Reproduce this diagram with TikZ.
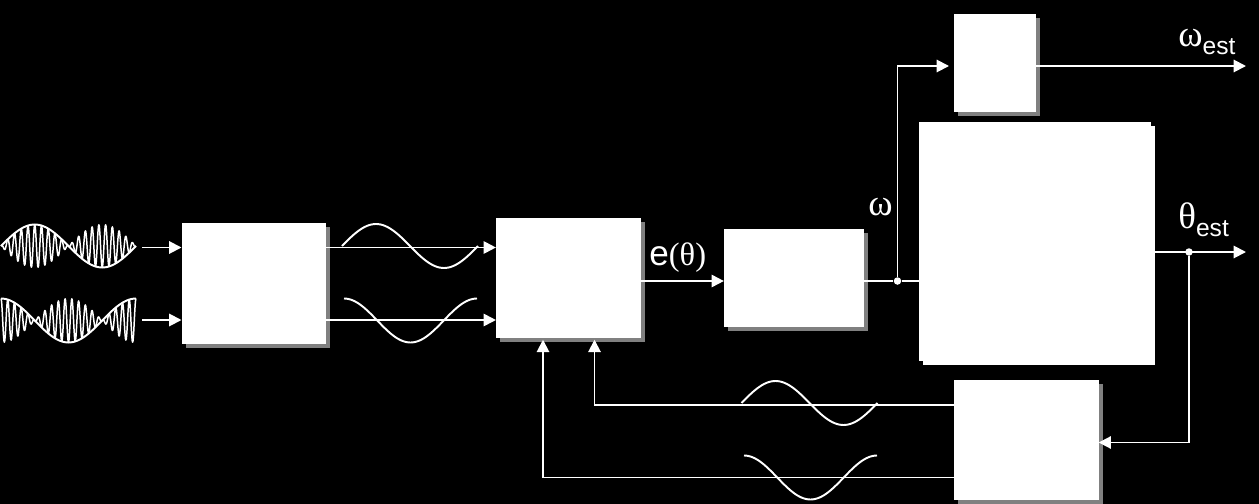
\documentclass[tikz,border=0pt]{standalone}
\usepackage{fontspec}
\setmainfont{Liberation Sans}
\newfontfamily\grkfont{Liberation Serif}
\usetikzlibrary{arrows.meta, positioning, shadows}
\definecolor{ShadowGray}{HTML}{808080}
\newcommand{\estsub}{\raisebox{-4.6pt}{\fontsize{14}{15}\selectfont est}}
\newcommand{\grkbig}{\grkfont\fontsize{21}{22}\selectfont}
\tikzset{
    block/.style={fill=white, inner sep=0pt, outer sep=0pt, drop shadow={shadow xshift=0.08cm, shadow yshift=-0.08cm, fill=ShadowGray, opacity=1}},
    wire/.style={draw=white, line width=1.1pt},
    feed/.style={wire, -{Triangle[length=7pt, width=7pt]}},
    wave/.style={draw=white, line width=1.1pt, line join=round},
    carrier/.style={draw=white, line width=0.85pt, line join=round},
    dot/.style={circle, fill=white, inner sep=0pt, minimum size=0.15cm},
    lbl/.style={text=white, inner sep=0pt, anchor=base west, font=\fontsize{20}{22}\selectfont}
}

\begin{document}
\begin{tikzpicture}[x=0.02cm, y=-0.02cm]
                \fill[black] (0,0) rectangle (1259,504);
                \useasboundingbox (0,0) rectangle (1259,504);

                \node[block, minimum width=2.9cm, minimum height=2.42cm] (mixer) at (254,283.5) {};
                \node[block, minimum width=2.9cm, minimum height=2.39cm, right=3.39cm of mixer, yshift=0.11cm] (detector) {};
                \node[block, minimum width=2.8cm, minimum height=1.95cm, right=1.66cm of detector] (loopfilt) {};
                \node[block, minimum width=1.64cm, minimum height=1.95cm] (scaler) at (994.7,63) {};
                \node[block, minimum width=4.63cm, minimum height=4.77cm, below=0.21cm of scaler, xshift=0.81cm, drop shadow={shadow xshift=0.08cm, shadow yshift=-0.08cm, fill=white, opacity=1}] (vco) {};
                \node[block, minimum width=2.9cm, minimum height=2.4cm, below=0.39cm of vco, xshift=-0.18cm] (quad) {};

                \coordinate (upline) at (142,247.5);
                \coordinate (loline) at (142,320);
                \coordinate (errline) at (680,281);
                \node[dot] (split) at (897.5,281) {};
                \node[dot] (tap) at (1189,252) {};
                \coordinate (wout) at (1246,66);
                \coordinate (tout) at (1246,252);
                \coordinate (fbin) at (1189,442.5);
                \coordinate (fbsin) at (594.5,405);
                \coordinate (fbcos) at (543,477.5);

                % Arrows
                \draw[feed] (upline) -- (upline -| mixer.west);
                \draw[feed] (loline) -- (loline -| mixer.west);
                \draw[feed] (upline -| mixer.east) -- (upline -| detector.west);
                \draw[feed] (loline -| mixer.east) -- (loline -| detector.west);
                \draw[feed] (errline -| detector.east) -- (errline -| loopfilt.west);
                \draw[wire] (errline -| loopfilt.east) -- (split) -- (errline -| vco.west);
                \draw[feed, shorten >=0.094cm] (split) |- (wout -| scaler.west);
                \draw[feed] (wout -| scaler.east) -- (wout);
                \draw[feed] (tout -| vco.east) -- (tout);
                \draw[feed] (tap) -- (fbin) -- (fbin -| quad.east);
                \draw[feed, shorten >=0.04cm] (fbsin -| quad.west) -- (fbsin) -- (fbsin |- detector.south);
                \draw[feed, shorten >=0.04cm] (fbcos -| quad.west) -- (fbcos) -- (fbcos |- detector.south);

                % Waves
                \foreach \xa/\ya in {342/246, 741.5/403}
                    \draw[wave] plot[domain=0:360, samples=61, smooth] ({\xa+\x/360*136}, {\ya-22*sin(\x)});
                \foreach \xa/\ya in {344/320.5, 744/477.5}
                    \draw[wave] plot[domain=0:360, samples=61, smooth] ({\xa+\x/360*133}, {\ya-22*cos(\x)});
                \draw[wave] plot[domain=0:360, samples=61, smooth] ({1+\x/360*135}, {246-21.5*sin(\x)});
                \draw[wave] plot[domain=0:360, samples=61, smooth] ({1+\x/360*135}, {320.5-22*cos(\x)});
                \draw[carrier] plot[domain=0:360, samples=361] ({1+\x/360*135}, {246-21.5*sin(\x)*cos(20*\x)});
                \draw[carrier] plot[domain=0:360, samples=361] ({1+\x/360*135}, {320.5-22*cos(\x)*cos(20*\x)});

                % Labels
                \node[lbl] (errlbl) at (649,265.5) {e{\grkfont\fontsize{18.5}{20}\selectfont (θ)}};
                \node[lbl] (wlbl) at (868,215) {\grkbig ω};
                \node[lbl] (westlbl) at (1178,46.7) {{\grkbig ω}\estsub};
                \node[lbl] (testlbl) at (1178,228) {{\grkbig θ}\estsub};
            \end{tikzpicture}
\end{document}
